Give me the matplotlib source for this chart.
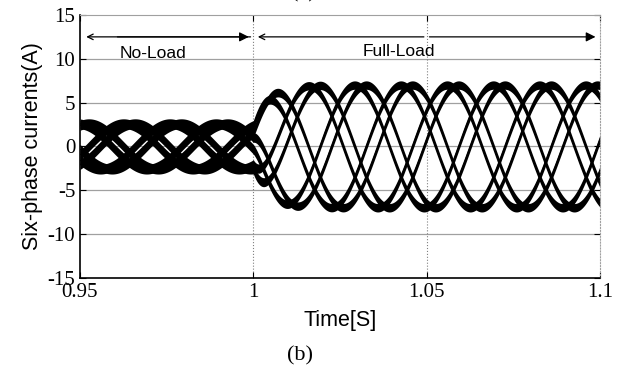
import numpy as np
import matplotlib
matplotlib.use("Agg")
import matplotlib.pyplot as plt

plt.rcParams["axes.unicode_minus"] = False

# waveform parameters
freq_hz = 25.0
phase_shift_deg = [0, 120, 240, 30, 150, 270]   # asymmetric six-phase
phase0_deg = -53.0
amp_noload = 2.6
amp_fullload = 7.0
band_noload = 0.55      # half-width of the noisy trace (A)
band_fullload = 0.48
t_step = 1.0
tau = 0.004

xticks = [0.95, 1.0, 1.05, 1.1]
xticklabels = ["0.95", "1", "1.05", "1.1"]
yticks = [-15, -10, -5, 0, 5, 10, 15]

t = np.linspace(0.95, 1.1, 4000)
ramp = np.where(t < t_step, 0.0, 1 - np.exp(-(t - t_step) / tau))
amp = amp_noload + (amp_fullload - amp_noload) * ramp
band = band_noload + (band_fullload - band_noload) * ramp

fig = plt.figure(figsize=(6.25, 3.74), dpi=100)
ax = fig.add_axes([0.128, 0.257, 0.832, 0.703])

for d in phase_shift_deg:
    y = amp * np.sin(2 * np.pi * freq_hz * t + np.radians(phase0_deg - d))
    ax.fill_between(t, y - band, y + band, color="k", lw=0)
    ax.plot(t, y, color="k", lw=0.6)

ax.set_xlim(0.95, 1.1)
ax.set_ylim(-15, 15)
ax.set_xticks(xticks)
ax.set_xticklabels(xticklabels)
ax.set_yticks(yticks)

for yv in yticks[1:-1]:
    ax.axhline(yv, color="#a0a0a0", lw=0.9, zorder=0)
for xv in xticks[1:-1]:
    ax.axvline(xv, color="#808080", lw=0.8, ls=":", zorder=0)

for s in ["top", "right"]:
    ax.spines[s].set_color("#a0a0a0")
ax.spines["right"].set_linestyle(":")
for s in ["bottom", "left"]:
    ax.spines[s].set_linewidth(1.2)

ax.tick_params(direction="in", length=4, top=True, right=True, labelsize=15)
for lab in ax.get_xticklabels() + ax.get_yticklabels():
    lab.set_fontfamily("Liberation Serif")

ax.set_xlabel("Time[S]", family="Liberation Sans", fontsize=15.5, labelpad=6)
ax.set_ylabel("Six-phase currents(A)", family="Liberation Sans", fontsize=15.5, labelpad=3)

# load-state arrows
ax.annotate("", xy=(0.951, 12.5), xytext=(1.0, 12.5),
            arrowprops=dict(arrowstyle="->", color="k", lw=0.9))
ax.annotate("", xy=(0.9995, 12.5), xytext=(0.96, 12.5),
            arrowprops=dict(arrowstyle="-|>", color="k", lw=0.9, mutation_scale=14))
ax.annotate("", xy=(1.0005, 12.5), xytext=(1.05, 12.5),
            arrowprops=dict(arrowstyle="->", color="k", lw=0.9))
ax.annotate("", xy=(1.0995, 12.5), xytext=(1.05, 12.5),
            arrowprops=dict(arrowstyle="-|>", color="k", lw=0.9, mutation_scale=14))
ax.text(0.9615, 10.6, "No-Load", family="Liberation Sans", fontsize=12.5, va="center")
ax.text(1.042, 10.8, "Full-Load", family="Liberation Sans", fontsize=12.5, va="center", ha="center")

fig.text(0.48, 0.035, "(b)", family="Liberation Serif", fontsize=16, ha="center")
fig.text(0.485, 1 + 3 / 374, "(a)", family="Liberation Serif", fontsize=16, ha="center", va="baseline")

fig.savefig("out.png", dpi=100)
